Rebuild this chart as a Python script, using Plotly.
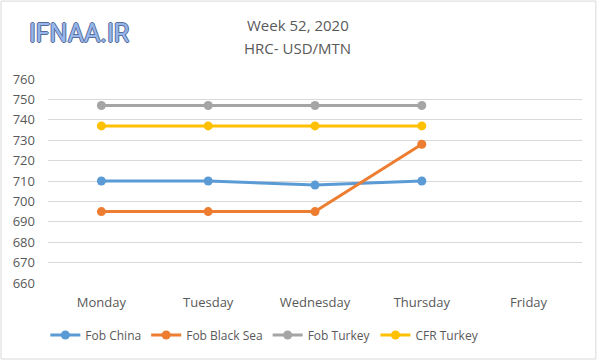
import plotly.graph_objects as go

days = ["Monday", "Tuesday", "Wednesday", "Thursday", "Friday"]
fob_china = [710, 710, 708, 710, None]
fob_black_sea = [695, 695, 695, 728, None]
fob_turkey = [747, 747, 747, 747, None]
cfr_turkey = [737, 737, 737, 737, None]
y_ticks = [660, 670, 680, 690, 700, 710, 720, 730, 740, 750, 760]

series = [
    ("Fob China", fob_china, "#5B9BD5"),
    ("Fob Black Sea", fob_black_sea, "#ED7D31"),
    ("Fob Turkey", fob_turkey, "#A5A5A5"),
    ("CFR Turkey", cfr_turkey, "#FFC000"),
]

FONT = "Open Sans"
fig = go.Figure()
for name, vals, col in series:
    fig.add_trace(go.Scatter(
        x=days, y=vals, name=name, mode="lines+markers",
        line=dict(color=col, width=3),
        marker=dict(color=col, size=9, symbol="circle"),
    ))

fig.update_layout(
    width=600, height=361,
    margin=dict(l=48, r=18, t=79, b=78),
    paper_bgcolor="white", plot_bgcolor="white",
    font=dict(family=FONT, size=13, color="#595959"),
    showlegend=True,
    legend=dict(orientation="h", x=-0.005, xanchor="left", y=-0.255, yanchor="middle",
                font=dict(size=12, color="#595959"), itemwidth=30,
                tracegroupgap=0),
    xaxis=dict(showgrid=False, showline=False, ticks="", zeroline=False,
               ticklabelstandoff=10, range=[-0.5, 4.5], fixedrange=True),
    yaxis=dict(range=[660, 760], tickvals=y_ticks, showgrid=True,
               gridcolor="#D9D9D9", gridwidth=1, zeroline=False, showline=False,
               ticks="", ticklabelstandoff=12, fixedrange=True),
    shapes=[dict(type="rect", xref="paper", yref="paper",
                 x0=-0.088, x1=1.026, y0=-0.3725, y1=1.382,
                 line=dict(color="#D9D9D9", width=1), fillcolor="rgba(0,0,0,0)",
                 layer="below")],
    annotations=[
        dict(text="Week 52, 2020", xref="paper", yref="paper", x=0.468, y=1.265,
             xanchor="center", yanchor="middle", showarrow=False,
             font=dict(family=FONT, size=15, color="#595959")),
        dict(text="HRC- USD/MTN", xref="paper", yref="paper", x=0.468, y=1.152,
             xanchor="center", yanchor="middle", showarrow=False,
             font=dict(family=FONT, size=15, color="#595959")),
        dict(text="IFNAA.IR", xref="paper", yref="paper", x=-0.04, y=1.225,
             xanchor="left", yanchor="middle", showarrow=False,
             font=dict(family="Roboto", size=25, color="#95B6EC",
                       shadow="1px 0 0 #5A6E98, -1px 0 0 #5A6E98, 0 1px 0 #5A6E98, 0 -1px 0 #5A6E98")),
    ],
)

fig.write_html("out.html", config={"displayModeBar": False},
               post_script="document.body.style.margin='0';document.body.style.padding='0';")
